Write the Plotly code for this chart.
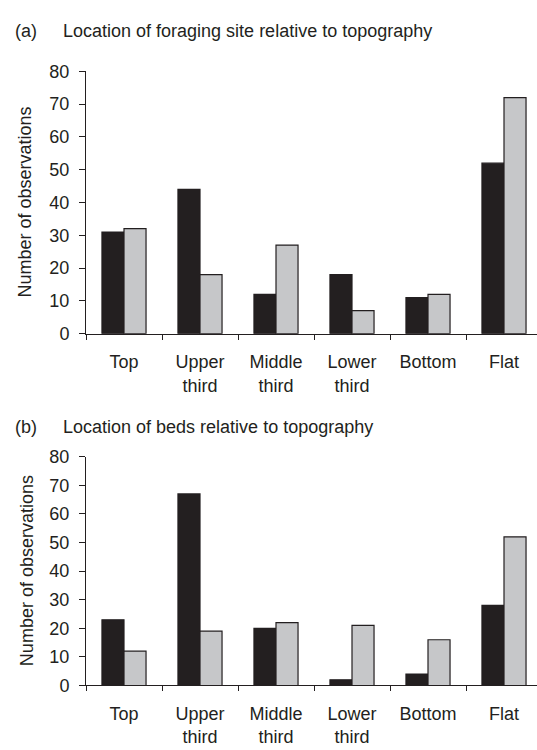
import plotly.graph_objects as go

categories = ["Top", "Upper<br>third", "Middle<br>third", "Lower<br>third", "Bottom", "Flat"]

# Panel (a): foraging site
foraging_black = [31, 44, 12, 18, 11, 52]
foraging_gray = [32, 18, 27, 7, 12, 72]

# Panel (b): beds
beds_black = [23, 67, 20, 2, 4, 28]
beds_gray = [12, 19, 22, 21, 16, 52]

y_ticks = [0, 10, 20, 30, 40, 50, 60, 70, 80]

title_a = "Location of foraging site relative to topography"
title_b = "Location of beds relative to topography"
y_title = "Number of observations"

W, H = 537, 750
INK = "#231f20"
GRAY = "#c6c7c9"
FONT = "Liberation Sans, Arial, sans-serif"
FS = 18

fig = go.Figure()

def add_pair(black, gray, xa, ya):
    fig.add_trace(go.Bar(x=categories, y=black, xaxis=xa, yaxis=ya,
                         marker=dict(color=INK, line=dict(color=INK, width=1.2)),
                         showlegend=False, hoverinfo="skip"))
    fig.add_trace(go.Bar(x=categories, y=gray, xaxis=xa, yaxis=ya,
                         marker=dict(color=GRAY, line=dict(color=INK, width=1.2)),
                         showlegend=False, hoverinfo="skip"))

add_pair(foraging_black, foraging_gray, "x", "y")
add_pair(beds_black, beds_gray, "x2", "y2")

def ydom(top_px, bottom_px):
    return [1 - bottom_px / H, 1 - top_px / H]

x_left = 86
slot = 76
xrange_max = (W - x_left) / slot - 0.5
xdom = [x_left / W, 1.0]

xcommon = dict(type="category", tickson="boundaries", ticks="outside", ticklen=5,
               tickcolor=INK, tickwidth=1, showline=True, linecolor=INK, linewidth=1,
               showgrid=False, zeroline=False, range=[-0.5, xrange_max],
               tickfont=dict(family=FONT, size=FS, color=INK), ticklabelstandoff=12,
               domain=xdom, fixedrange=True)
ycommon = dict(range=[0, 80], tickmode="array", tickvals=y_ticks, ticks="outside", ticklen=6,
               tickcolor=INK, tickwidth=1, showline=True, linecolor=INK, linewidth=1,
               showgrid=False, zeroline=False,
               tickfont=dict(family=FONT, size=FS, color=INK), ticklabelstandoff=6,
               fixedrange=True)

ya_top, ya_bot = 63, 332.5
yb_top, yb_bot = 459, 694

fig.update_layout(
    width=W, height=H,
    margin=dict(l=0, r=0, t=0, b=0),
    paper_bgcolor="white", plot_bgcolor="white",
    barmode="group", bargap=0.42, bargroupgap=0,
    font=dict(family=FONT, size=FS, color=INK),
    xaxis=dict(anchor="y", **xcommon),
    yaxis=dict(anchor="x", domain=ydom(ya_top, ya_bot), **ycommon),
    xaxis2=dict(anchor="y2", **xcommon),
    yaxis2=dict(anchor="x2", domain=ydom(yb_top, yb_bot), **ycommon),
)

def ann(text, xpx, ypx, xanchor="left", angle=0):
    fig.add_annotation(text=text, xref="paper", yref="paper",
                       x=xpx / W, y=1 - ypx / H, xanchor=xanchor, yanchor="middle",
                       textangle=angle, showarrow=False,
                       font=dict(family=FONT, size=FS, color=INK))

ann("(a)", 13, 22)
ann(title_a, 61, 22)
ann("(b)", 13, 428)
ann(title_b, 61, 428)
ann(y_title, 25, (ya_top + ya_bot) / 2, xanchor="center", angle=-90)
ann(y_title, 27, (yb_top + yb_bot) / 2, xanchor="center", angle=-90)

fig.write_html("out.html",
               config={"displayModeBar": False, "staticPlot": True},
               post_script="document.body.style.margin='0';document.body.style.padding='0';document.body.style.overflow='hidden';")
